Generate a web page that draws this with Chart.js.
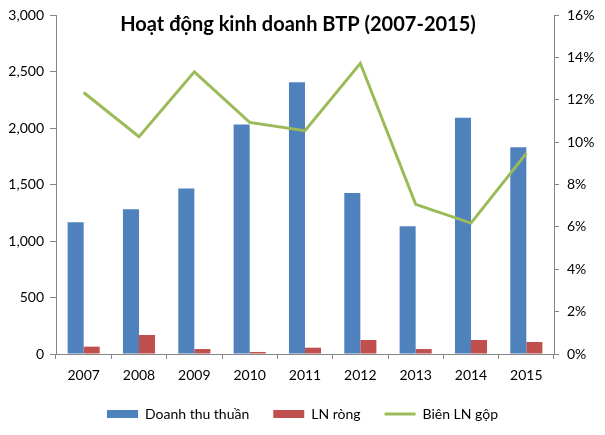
<!DOCTYPE html>
<html>
<head>
<meta charset="utf-8">
<script src="https://cdn.jsdelivr.net/npm/chart.js@4"></script>
<style>
  html, body { margin: 0; padding: 0; background: #fff; }
  #wrap { width: 605px; height: 435px; position: relative; }
</style>
</head>
<body>
<div id="wrap"><canvas id="bieuDo"></canvas></div>
<script>
const nam = ["2007", "2008", "2009", "2010", "2011", "2012", "2013", "2014", "2015"];
const doanhThu = [1165, 1280, 1465, 2030, 2405, 1425, 1130, 2090, 1830];
const lnRong = [65, 168, 44, 18, 56, 124, 44, 124, 106];
const bienLN = [12.34, 10.26, 13.32, 10.93, 10.54, 13.72, 7.06, 6.18, 9.47];
const tieuDe = "Hoạt động kinh doanh BTP (2007-2015)";

const mauTruc = "#868686";
const font = "Lato, 'Open Sans', sans-serif";

// tieu de ve de len vung bieu do, giong ban goc
const veTieuDe = {
  id: "veTieuDe",
  afterDraw(chart) {
    const ctx = chart.ctx;
    ctx.save();
    ctx.font = "bold 20px " + font;
    ctx.fillStyle = "#000";
    ctx.textAlign = "center";
    ctx.textBaseline = "middle";
    ctx.fillText(tieuDe, 298, 25);
    ctx.restore();
  }
};

new Chart(document.getElementById("bieuDo"), {
  type: "bar",
  data: {
    labels: nam,
    datasets: [
      { label: "Doanh thu thuần", data: doanhThu, backgroundColor: "#4F81BD", borderWidth: 0, yAxisID: "y", pointStyle: "rect", order: 2 },
      { label: "LN ròng", data: lnRong, backgroundColor: "#C0504D", borderWidth: 0, yAxisID: "y", pointStyle: "rect", order: 2 },
      { type: "line", label: "Biên LN gộp", data: bienLN, borderColor: "#9BBB59", backgroundColor: "#9BBB59", borderWidth: 3, pointRadius: 0, tension: 0, yAxisID: "y1", pointStyle: "line", order: 1 }
    ]
  },
  options: {
    responsive: true,
    maintainAspectRatio: false,
    animation: false,
    layout: { padding: { top: 14, left: 0, right: 0, bottom: 4 } },
    datasets: { bar: { categoryPercentage: 0.58, barPercentage: 1 } },
    plugins: {
      legend: {
        position: "bottom",
        labels: {
          color: "#000",
          font: { family: font, size: 14 },
          usePointStyle: true,
          pointStyleWidth: 31,
          boxHeight: 8,
          padding: 24,
          sort: (a, b) => a.datasetIndex - b.datasetIndex
        }
      },
      tooltip: { enabled: false }
    },
    scales: {
      x: {
        offset: true,
        grid: { offset: true, drawOnChartArea: false, tickLength: 5, color: mauTruc },
        border: { color: mauTruc },
        ticks: { color: "#000", font: { family: font, size: 14 }, padding: 8, maxRotation: 0 },
        afterFit: s => { s.height = 29; }
      },
      y: {
        position: "left",
        min: 0, max: 3000,
        grid: { drawOnChartArea: false, tickLength: 6, color: mauTruc },
        border: { color: mauTruc },
        ticks: { stepSize: 500, color: "#000", font: { family: font, size: 14, lineHeight: 1 }, padding: 6, callback: v => v.toLocaleString("en-US") },
        afterFit: s => { s.width = 56; }
      },
      y1: {
        position: "right",
        min: 0, max: 16,
        grid: { drawOnChartArea: false, tickLength: 5, color: mauTruc },
        border: { color: mauTruc },
        ticks: { stepSize: 2, color: "#000", font: { family: font, size: 14, lineHeight: 1 }, padding: 8, callback: v => v + "%" },
        afterFit: s => { s.width = 51; }
      }
    }
  },
  plugins: [veTieuDe]
});
</script>
</body>
</html>
